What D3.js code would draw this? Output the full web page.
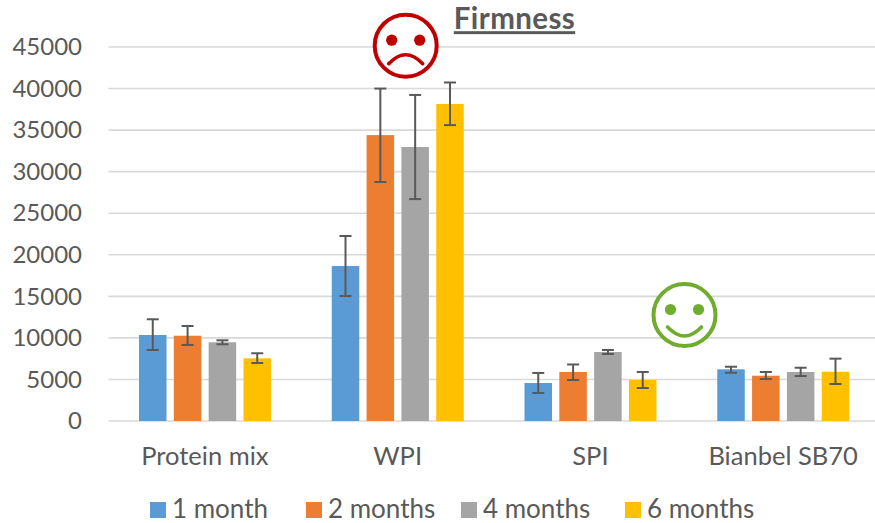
<!DOCTYPE html>
<html>
<head>
<meta charset="utf-8">
<script src="https://cdn.jsdelivr.net/npm/d3@7"></script>
<style>
  html, body { margin: 0; padding: 0; background: #fff; }
  svg { display: block; font-family: Lato, sans-serif; }
</style>
</head>
<body>
<div id="chart"></div>
<script>
const categories = ["Protein mix", "WPI", "SPI", "Bianbel SB70"]
const seriesNames = ["1 month", "2 months", "4 months", "6 months"]
const seriesColors = ["#5b9bd5", "#ed7d31", "#a5a5a5", "#ffc000"]
const yTicks = [0, 5000, 10000, 15000, 20000, 25000, 30000, 35000, 40000, 45000]

// one row per series, one value per category
const values = [
    [10350, 18650, 4570, 6220],
    [10260, 34400, 5900, 5450],
    [9470, 32970, 8300, 5900],
    [7540, 38150, 4930, 5930]
]
const errLow = [
    [8540, 15040, 3370, 5810],
    [9150, 28760, 4930, 5050],
    [9230, 26700, 8060, 5410],
    [6980, 35600, 3970, 4450]
]
const errHigh = [
    [12240, 22260, 5780, 6530],
    [11430, 40000, 6800, 5900],
    [9710, 39230, 8540, 6410],
    [8150, 40730, 5900, 7500]
]

const width = 875, height = 523
const textColor = "#595959", gridColor = "#d9d9d9", errColor = "#595959"

const svg = d3.select("#chart").append("svg")
    .attr("width", width)
    .attr("height", height)

const y = d3.scaleLinear().domain([0, 45000]).range([421, 47])
const x = d3.scaleBand().domain(categories).range([108.5, 879.5])
const xInner = d3.scaleBand().domain(d3.range(seriesNames.length))
    .range([30.5, 162.5])
    .paddingInner(0.21)
    .paddingOuter(0)

// gridlines + baseline
const yAxis = d3.axisLeft(y).tickValues(yTicks).tickSize(0).tickPadding(0).tickFormat(d3.format("d"))
const yG = svg.append("g").attr("transform", "translate(82,0)").call(yAxis)
yG.select(".domain").remove()
yG.selectAll("text")
    .attr("fill", textColor)
    .style("font-size", "24px")
    .style("font-family", "Lato, sans-serif")

svg.append("g").selectAll("line").data(yTicks).join("line")
    .attr("x1", 108.5)
    .attr("x2", width)
    .attr("y1", d => y(d))
    .attr("y2", d => y(d))
    .attr("stroke", gridColor)
    .attr("stroke-width", 1.6)

const xAxis = d3.axisBottom(x).tickSize(0).tickPadding(0)
const xG = svg.append("g").attr("transform", "translate(0,447)").call(xAxis)
xG.select(".domain").remove()
xG.selectAll("text")
    .attr("fill", textColor)
    .style("font-size", "25.5px")
    .style("font-family", "Lato, sans-serif")

// bars and error bars
seriesNames.forEach((name, s) => {
    const g = svg.append("g")
    const pos = c => x(c) + xInner(s)

    g.selectAll("rect").data(categories).join("rect")
        .attr("x", c => pos(c))
        .attr("width", xInner.bandwidth())
        .attr("y", (c, i) => y(values[s][i]))
        .attr("height", (c, i) => y(0) - y(values[s][i]))
        .attr("fill", seriesColors[s])

    const eg = g.append("g").attr("stroke", errColor).attr("stroke-width", 2)
    categories.forEach((c, i) => {
        const cx = pos(c) + xInner.bandwidth() / 2
        eg.append("line")
            .attr("x1", cx).attr("x2", cx)
            .attr("y1", y(errLow[s][i])).attr("y2", y(errHigh[s][i]))
        ;[errLow[s][i], errHigh[s][i]].forEach(v => {
            eg.append("line")
                .attr("x1", cx - 6).attr("x2", cx + 6)
                .attr("y1", y(v)).attr("y2", y(v))
        })
    })
})

// title
svg.append("text")
    .attr("x", 514.5)
    .attr("y", 29.2)
    .attr("text-anchor", "middle")
    .attr("fill", textColor)
    .style("font-size", "29.5px")
    .style("font-weight", "700")
    .style("letter-spacing", "0.4px")
    .style("text-decoration", "underline")
    .text("Firmness")

// faces
function face(cx, cy, color, happy) {
    const g = svg.append("g").attr("transform", `translate(${cx},${cy})`)
    g.append("circle").attr("r", 31)
        .attr("fill", "#fff").attr("stroke", color).attr("stroke-width", 4)
    g.selectAll(".eye").data([-14, 14]).join("circle")
        .attr("class", "eye")
        .attr("cx", d => d)
        .attr("cy", -5.5)
        .attr("r", 5.6)
        .attr("fill", color)
    g.append("path")
        .attr("d", happy ? "M-17,12 Q0,30 17,12" : "M-17,18 Q0,0 17,18")
        .attr("fill", "none")
        .attr("stroke", color)
        .attr("stroke-width", 3.6)
        .attr("stroke-linecap", "round")
}
face(405.7, 45.7, "#c00000", false)
face(684.5, 315, "#70ad2f", true)

// legend
const legendX = [150, 306, 461, 625]
const legend = svg.append("g").selectAll("g").data(seriesNames).join("g")
    .attr("transform", (d, i) => `translate(${legendX[i]},502)`)
legend.append("rect")
    .attr("width", 16)
    .attr("height", 16)
    .attr("fill", (d, i) => seriesColors[i])
legend.append("text")
    .attr("x", 22)
    .attr("y", 16)
    .attr("fill", textColor)
    .style("font-size", "26px")
    .text(d => d)
</script>
</body>
</html>
